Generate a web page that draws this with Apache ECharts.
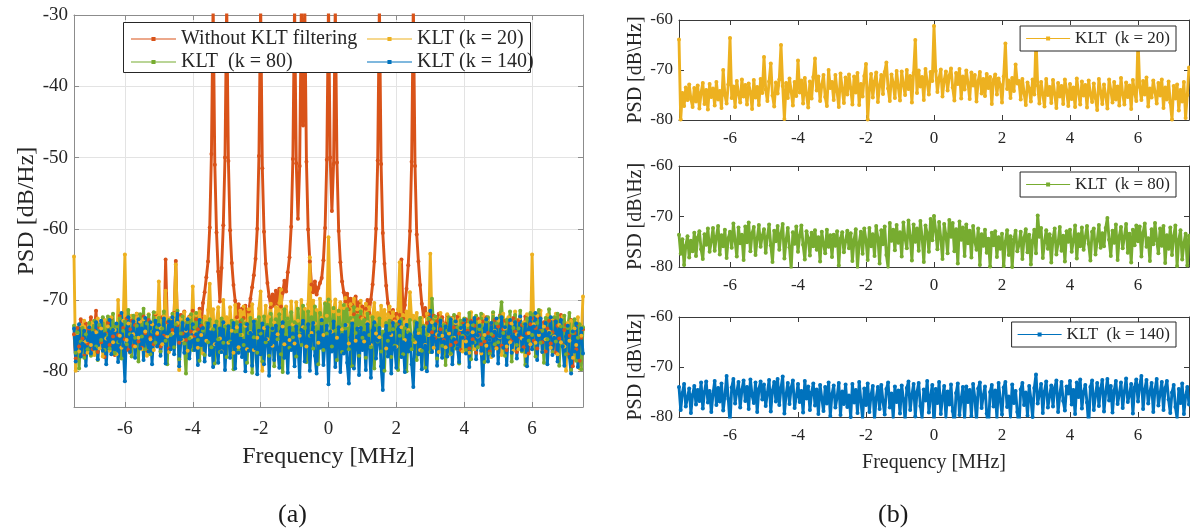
<!DOCTYPE html>
<html>
<head>
<meta charset="utf-8">
<script src="https://cdn.jsdelivr.net/npm/echarts@6/dist/echarts.min.js"></script>
<style>
html,body{margin:0;padding:0;background:#fff}
#chart{width:1190px;height:531px}
</style>
</head>
<body>
<div id="chart"></div>
<script>
// Frequency grid (MHz): one PSD value every freqStep from freqStart
const freqStart = -7.5;
const freqStep = 0.05;

// Tick labels
const xTicks = [-6, -4, -2, 0, 2, 4, 6];
const yTicksA = [-80, -70, -60, -50, -40, -30];
const yTicksB = [-80, -70, -60];

// PSD [dB/Hz] without KLT filtering
const psdRaw = [
-74.8,-78.2,-73.9,-76.5,-72.7,-75.4,-77.8,-73.3,-76.1,-74.0,
-72.4,-76.9,-74.3,-71.5,-77.3,-73.8,-75.9,-72.8,-78.0,-74.7,
-73.2,-76.3,-72.5,-75.1,-77.7,-73.6,-74.9,-72.2,-76.6,-73.9,
-75.5,-72.6,-77.0,-74.1,-72.9,-76.4,-73.5,-71.9,-75.8,-73.0,
-76.7,-72.3,-74.6,-77.1,-72.8,-75.3,-73.4,-76.2,-72.0,-74.8,
-73.7,-76.5,-72.4,-75.0,-64.3,-73.1,-76.8,-72.6,-74.2,-71.8,
-64.5,-73.5,-76.0,-72.1,-74.7,-71.6,-75.6,-73.0,-72.3,-74.4,
-71.5,-75.0,-72.7,-74.1,-71.2,-73.6,-70.4,-68.9,-66.8,-64.6,
-59.8,-49.5,-28.0,-51.0,-60.5,-66.0,-70.2,-65.5,-59.5,-50.0,
-28.0,-50.5,-60.2,-64.8,-67.9,-70.1,-72.4,-70.6,-73.0,-71.2,
-72.5,-70.8,-73.4,-71.6,-69.8,-68.2,-66.5,-64.2,-60.0,-49.8,
-28.0,-51.5,-60.4,-64.9,-67.6,-69.5,-71.0,-69.2,-70.8,-68.7,
-70.5,-68.4,-70.9,-69.0,-67.3,-68.8,-66.1,-64.0,-59.7,-50.2,
-28.0,-50.8,-58.6,-51.2,-28.0,-45.5,-28.0,-50.6,-60.1,-64.6,
-67.8,-68.9,-67.4,-69.2,-68.3,-67.6,-66.9,-64.4,-59.9,-50.3,
-28.0,-50.0,-57.5,-50.9,-28.0,-50.7,-60.3,-64.7,-67.4,-68.9,
-70.2,-69.1,-71.3,-69.8,-70.7,-72.0,-69.5,-71.6,-70.3,-72.4,
-70.9,-72.6,-71.2,-70.0,-71.8,-69.9,-67.8,-64.6,-60.0,-50.4,
-28.0,-50.9,-60.6,-64.9,-68.0,-70.4,-71.8,-73.0,-71.4,-72.7,
-71.9,-73.3,-72.1,-64.3,-72.6,-70.7,-68.4,-65.1,-60.3,-50.6,
-28.0,-51.2,-60.8,-64.6,-67.9,-70.5,-72.3,-71.1,-73.2,-72.0,
-72.8,-74.5,-72.2,-75.3,-73.0,-71.9,-74.1,-72.4,-75.6,-73.3,
-72.1,-74.6,-76.3,-72.5,-73.8,-75.9,-72.3,-74.7,-77.0,-73.1,
-75.2,-72.7,-74.3,-76.8,-72.9,-75.5,-73.6,-77.4,-72.6,-74.9,
-76.2,-73.0,-75.8,-72.4,-74.6,-77.2,-73.3,-75.0,-72.8,-76.7,
-73.7,-72.2,-76.4,-74.1,-72.9,-77.0,-74.8,-73.2,-75.6,-72.5,
-74.4,-77.3,-72.8,-75.2,-73.5,-76.6,-72.3,-74.7,-77.5,-73.4,
-72.6,-75.7,-73.9,-76.8,-72.4,-74.3,-75.9,-73.1,-77.2,-74.0,
-72.9,-76.1,-74.5,-72.7,-77.4,-73.6,-75.4,-72.1,-76.3,-74.2,
-73.5,-77.6,-75.0,-72.8,-79.3,-74.6,-76.9,-73.4,-78.5,-75.3,
-74.1
];

// PSD after KLT filtering, k = 20
const psdK20 = [
-63.9,-79.9,-74.6,-77.2,-73.5,-76.0,-72.9,-75.8,-77.4,-73.6,
-76.3,-73.1,-77.7,-74.5,-72.6,-76.8,-74.0,-77.9,-72.8,-75.4,
-73.7,-77.1,-72.4,-75.9,-74.2,-77.6,-70.0,-75.0,-76.7,-72.9,
-63.6,-75.6,-73.3,-77.4,-72.2,-74.8,-76.5,-71.9,-75.3,-73.0,
-76.9,-72.7,-74.4,-77.8,-72.0,-75.5,-73.4,-77.0,-71.8,-74.6,
-67.4,-73.9,-76.2,-72.3,-68.7,-75.1,-77.3,-72.5,-74.7,-71.9,
-65.0,-73.2,-79.8,-72.6,-75.6,-71.7,-74.3,-77.1,-72.4,-75.2,
-68.1,-74.5,-72.1,-76.7,-71.6,-74.9,-77.5,-72.3,-75.7,-71.4,
-67.7,-74.1,-71.3,-76.2,-73.0,-71.0,-75.4,-77.2,-70.0,-73.6,
-72.4,-76.0,-71.0,-74.3,-77.4,-70.7,-73.8,-76.6,-71.5,-74.9,
-70.9,-73.6,-76.9,-71.3,-74.5,-70.6,-77.0,-72.8,-75.3,-71.2,
-68.8,-79.9,-73.9,-70.8,-75.5,-72.3,-70.5,-76.4,-73.1,-71.0,
-74.8,-70.4,-68.5,-73.7,-76.2,-70.9,-72.6,-75.6,-70.2,-73.4,
-76.1,-70.3,-72.9,-75.0,-70.0,-73.8,-71.2,-76.5,-70.6,-64.0,
-74.6,-70.1,-73.3,-71.4,-76.0,-69.8,-72.5,-74.9,-70.4,-72.2,
-61.2,-70.2,-74.4,-71.6,-69.9,-75.3,-72.0,-70.3,-74.1,-71.1,
-69.7,-73.5,-76.1,-70.6,-72.8,-69.8,-75.7,-71.3,-73.9,-70.1,
-72.6,-75.8,-70.5,-73.1,-71.0,-76.3,-72.2,-70.4,-74.7,-71.8,
-75.2,-70.8,-73.6,-71.4,-76.8,-72.0,-70.9,-74.9,-71.7,-73.0,
-76.5,-71.3,-64.7,-73.8,-72.1,-75.6,-71.6,-74.2,-68.9,-72.7,
-72.2,-75.9,-71.8,-74.6,-77.0,-72.5,-73.7,-76.3,-71.9,-74.9,
-63.5,-73.1,-76.7,-72.4,-74.8,-77.3,-71.8,-75.0,-73.4,-76.6,
-72.0,-74.7,-77.6,-72.6,-75.3,-73.2,-76.8,-71.9,-74.1,-77.2,
-72.8,-75.8,-73.5,-77.4,-71.7,-74.5,-76.9,-72.3,-75.1,-73.0,
-77.5,-72.1,-74.9,-76.4,-72.7,-75.6,-78.0,-71.8,-74.3,-76.8,
-72.9,-75.2,-77.7,-71.9,-74.0,-76.5,-72.4,-75.9,-73.3,-77.1,
-71.6,-74.8,-76.9,-72.5,-75.4,-73.1,-77.8,-72.0,-74.6,-76.2,
-63.6,-73.4,-76.0,-72.2,-74.9,-71.5,-77.3,-73.7,-75.5,-72.1,
-74.4,-76.7,-72.6,-75.1,-71.9,-77.6,-73.5,-75.9,-72.3,-76.5,
-79.9,-73.2,-75.7,-72.9,-78.1,-74.0,-76.3,-72.4,-79.6,-75.0,
-69.5
];

// PSD after KLT filtering, k = 80
const psdK80 = [
-73.6,-77.4,-74.5,-79.6,-75.8,-73.9,-78.1,-74.8,-76.9,-73.2,
-77.8,-74.2,-72.9,-76.5,-78.4,-73.5,-75.6,-72.4,-77.0,-74.9,
-72.3,-76.8,-74.0,-71.9,-77.5,-73.7,-75.9,-72.6,-78.2,-74.3,
-73.0,-76.2,-71.4,-74.8,-77.9,-72.2,-75.3,-73.6,-78.6,-72.0,
-75.1,-71.2,-76.9,-73.3,-72.1,-77.6,-74.4,-71.7,-76.0,-73.8,
-72.5,-77.2,-74.0,-71.6,-75.7,-79.0,-72.8,-74.9,-71.9,-76.6,
-73.4,-71.5,-78.3,-74.7,-72.3,-76.1,-80.3,-73.1,-75.4,-72.0,
-77.0,-73.8,-71.8,-75.6,-78.5,-72.9,-74.3,-77.7,-73.2,-75.9,
-72.7,-76.6,-74.1,-78.9,-73.0,-75.5,-77.3,-72.6,-76.0,-73.7,
-78.0,-73.6,-75.8,-72.9,-79.7,-74.4,-73.1,-77.1,-74.9,-72.8,
-76.3,-73.3,-78.8,-74.6,-72.5,-80.2,-75.2,-73.0,-77.4,-72.4,
-74.7,-78.6,-72.3,-75.9,-73.5,-77.8,-71.9,-74.2,-79.3,-72.7,
-75.5,-72.0,-77.6,-80.1,-71.3,-74.8,-72.6,-76.7,-71.7,-75.2,
-73.1,-77.9,-71.2,-74.4,-76.3,-70.8,-73.9,-78.7,-71.6,-75.0,
-72.4,-76.8,-70.9,-74.1,-79.0,-71.8,-73.3,-77.0,-70.5,-74.7,
-69.9,-72.8,-76.5,-71.1,-74.3,-78.4,-71.5,-73.6,-77.3,-70.7,
-74.0,-71.3,-76.9,-72.5,-79.3,-71.0,-74.6,-72.2,-77.8,-71.6,
-75.3,-72.8,-78.1,-71.9,-74.9,-76.6,-72.4,-79.6,-73.5,-75.8,
-72.6,-77.2,-74.4,-79.9,-73.2,-75.7,-72.9,-78.0,-74.1,-76.4,
-73.4,-79.8,-75.0,-72.7,-77.6,-73.9,-80.0,-74.5,-72.8,-76.9,
-75.6,-73.0,-78.4,-74.2,-72.5,-77.1,-73.6,-79.5,-74.8,-72.6,
-77.3,-69.8,-74.0,-72.3,-78.2,-75.1,-72.7,-76.4,-73.5,-79.1,
-74.3,-72.4,-77.5,-75.3,-72.1,-76.8,-73.8,-78.9,-72.9,-75.0,
-72.6,-77.0,-74.7,-71.8,-78.3,-73.5,-75.9,-72.2,-76.6,-74.1,
-71.9,-75.4,-78.7,-73.0,-72.4,-77.5,-74.8,-71.7,-76.2,-73.3,
-75.9,-72.3,-70.3,-74.6,-77.8,-72.8,-75.2,-71.6,-78.6,-73.9,
-72.1,-76.3,-74.0,-71.5,-77.2,-73.4,-79.1,-72.6,-75.7,-71.8,
-74.9,-72.0,-77.9,-73.2,-71.4,-76.0,-74.3,-78.8,-72.5,-75.5,
-71.3,-74.7,-77.3,-72.4,-75.8,-71.9,-79.2,-73.7,-76.4,-72.2,
-77.6,-73.9,-71.8,-79.8,-74.6,-72.7,-78.5,-75.3,-73.4,-79.7,
-73.8
];

// PSD after KLT filtering, k = 140
const psdK140 = [
-74.0,-78.6,-75.2,-73.4,-77.9,-76.1,-74.3,-79.2,-75.6,-73.8,
-77.5,-74.6,-76.8,-73.1,-78.3,-75.0,-72.9,-77.1,-74.8,-79.0,
-75.4,-72.8,-77.6,-74.2,-76.9,-73.3,-78.7,-75.8,-71.8,-76.4,
-81.4,-74.1,-72.4,-77.3,-75.0,-73.0,-78.1,-74.6,-72.7,-76.8,
-74.0,-78.4,-72.5,-75.7,-77.2,-73.1,-79.0,-74.4,-72.9,-76.5,
-73.5,-77.8,-75.2,-72.6,-78.9,-74.7,-73.0,-76.9,-72.4,-77.6,
-74.2,-71.9,-79.3,-75.5,-73.2,-77.4,-74.1,-72.7,-78.2,-75.9,
-73.4,-77.0,-74.8,-79.1,-72.8,-76.3,-73.9,-78.6,-75.1,-73.3,
-77.7,-74.5,-79.4,-73.6,-76.2,-78.8,-74.0,-77.3,-73.1,-79.8,
-75.4,-73.7,-78.1,-76.0,-73.2,-79.6,-74.9,-77.4,-73.5,-78.0,
-75.7,-80.0,-73.4,-77.1,-74.6,-79.2,-73.0,-76.8,-80.4,-74.3,
-77.6,-73.3,-79.0,-75.5,-73.8,-80.6,-76.2,-74.0,-78.4,-73.6,
-76.9,-79.5,-74.4,-73.1,-78.1,-75.3,-80.2,-73.9,-77.0,-74.7,
-79.3,-73.7,-76.4,-80.8,-74.2,-72.9,-78.6,-75.6,-73.4,-79.9,
-75.0,-73.2,-77.8,-80.3,-74.5,-76.7,-72.8,-79.1,-75.8,-73.6,
-81.8,-74.4,-77.2,-73.0,-79.4,-76.0,-73.8,-80.1,-74.9,-77.5,
-73.5,-78.8,-81.7,-75.2,-73.3,-79.6,-76.3,-74.0,-80.5,-73.9,
-77.0,-74.6,-79.8,-73.4,-76.1,-80.9,-74.3,-73.1,-78.2,-75.7,
-73.9,-79.3,-82.6,-75.0,-73.6,-77.9,-74.7,-80.3,-73.2,-76.6,
-79.5,-74.1,-73.0,-78.0,-75.9,-80.1,-73.5,-77.2,-74.8,-79.0,
-82.2,-74.5,-73.2,-77.6,-75.1,-79.7,-73.8,-76.4,-80.0,-74.2,
-71.5,-77.3,-75.4,-73.4,-79.2,-74.9,-72.9,-78.1,-75.8,-73.7,
-77.9,-74.2,-72.7,-79.0,-75.5,-73.0,-76.8,-78.7,-73.9,-75.3,
-72.8,-77.5,-74.6,-79.4,-73.1,-76.0,-72.5,-78.3,-75.0,-73.6,
-77.1,-81.9,-74.0,-72.7,-78.6,-75.6,-73.2,-77.8,-74.4,-72.6,
-78.9,-75.1,-72.4,-76.7,-73.8,-79.1,-74.7,-72.8,-77.4,-75.4,
-73.1,-78.2,-74.9,-72.3,-77.0,-75.6,-73.4,-79.3,-74.1,-72.5,
-76.9,-73.7,-71.8,-78.4,-74.5,-72.6,-77.3,-75.0,-73.2,-79.0,
-74.6,-72.4,-77.7,-75.3,-73.0,-78.6,-74.2,-72.8,-76.5,-79.2,
-75.1,-73.6,-78.0,-80.3,-74.4,-77.2,-73.3,-79.4,-75.8,-74.0,
-77.5
];

const COLORS = { raw: '#D95319', k20: '#EDB120', k80: '#77AC30', k140: '#0072BD' };
const FONT = 'Liberation Serif';
const TXT = '#262626';

const toPairs = arr => arr.map((v, i) => [+(freqStart + i * freqStep).toFixed(2), v]);

const grids = [
  { left: 74, top: 15, width: 509, height: 392 },
  { left: 679, top: 20, width: 510, height: 100 },
  { left: 679, top: 166, width: 510, height: 101 },
  { left: 679, top: 317, width: 510, height: 100 }
];

const xAxes = [], yAxes = [];
grids.forEach((g, gi) => {
  const big = gi === 0;
  const lineColor = big ? '#8c8c8c' : '#3a3a3a';
  const tickFont = big ? 19 : 17;
  const ticksY = big ? yTicksA : yTicksB;
  xAxes.push({
    gridIndex: gi, type: 'value', min: -7.5, max: 7.5, position: 'bottom',
    name: (gi === 0 || gi === 3) ? 'Frequency [MHz]' : '',
    nameLocation: 'middle', nameGap: big ? 38 : 36,
    nameTextStyle: { fontFamily: FONT, fontSize: big ? 24 : 20, color: TXT },
    axisLine: { show: true, onZero: false, lineStyle: { color: lineColor, width: 1 } },
    axisTick: { show: true, inside: true, length: 5, customValues: xTicks, lineStyle: { color: lineColor } },
    axisLabel: { show: true, customValues: xTicks, margin: big ? 13 : 10, fontFamily: FONT, fontSize: tickFont, color: TXT },
    splitLine: { show: big, lineStyle: { color: '#e3e3e3', width: 1 } }
  });
  xAxes.push({
    gridIndex: gi, type: 'value', min: -7.5, max: 7.5, position: 'top',
    axisLine: { show: true, onZero: false, lineStyle: { color: lineColor, width: 1 } },
    axisTick: { show: true, inside: true, length: 5, customValues: xTicks, lineStyle: { color: lineColor } },
    axisLabel: { show: false }, splitLine: { show: false }
  });
  yAxes.push({
    gridIndex: gi, type: 'value', position: 'left',
    min: big ? -85 : -80, max: big ? -30 : -60,
    name: big ? 'PSD [dB/Hz]' : 'PSD [dB\\Hz]',
    nameLocation: 'middle', nameGap: big ? 27 : 33, nameRotate: 90,
    nameTextStyle: { fontFamily: FONT, fontSize: big ? 24 : 20, color: TXT },
    axisLine: { show: true, onZero: false, lineStyle: { color: lineColor, width: 1 } },
    axisTick: { show: true, inside: true, length: 5, customValues: ticksY, lineStyle: { color: lineColor } },
    axisLabel: { show: true, customValues: ticksY, margin: 6, fontFamily: FONT, fontSize: tickFont, color: TXT },
    splitLine: { show: big, lineStyle: { color: '#e3e3e3', width: 1 } }
  });
  yAxes.push({
    gridIndex: gi, type: 'value', position: 'right',
    min: big ? -85 : -80, max: big ? -30 : -60,
    axisLine: { show: true, onZero: false, lineStyle: { color: lineColor, width: 1 } },
    axisTick: { show: true, inside: true, length: 5, customValues: ticksY, lineStyle: { color: lineColor } },
    axisLabel: { show: false }, splitLine: { show: false }
  });
});

// Dense PSD traces: thick line plus small dot markers so the noise reads as a filled band
function psdSeries(name, data, color, gi) {
  return {
    type: 'line', name: name, data: toPairs(data),
    xAxisIndex: gi * 2, yAxisIndex: gi * 2,
    color: color,
    lineStyle: { width: 2.9, color: color, join: 'round' },
    itemStyle: { color: color },
    symbol: 'circle', symbolSize: 4,
    showSymbol: true, showAllSymbol: true,
    clip: true, silent: true, animation: false,
    emphasis: { disabled: true }
  };
}

const legendIcon = 'path://M0,4.5H44V5.5H0Z M20,3H24V7H20Z';
const legendText = size => ({ fontFamily: FONT, fontSize: size, color: TXT, lineHeight: size });

const option = {
  backgroundColor: '#ffffff',
  animation: false,
  grid: grids,
  xAxis: xAxes,
  yAxis: yAxes,
  legend: [
    { zlevel: 1, z: 5, left: 126, top: 24, orient: 'vertical', itemGap: 3, itemWidth: 45, itemHeight: 14,
      icon: legendIcon, symbolKeepAspect: true, selectedMode: false,
      data: ['Without KLT filtering', 'KLT  (k = 80)'], textStyle: legendText(20) },
    { zlevel: 1, z: 5, left: 362, top: 24, orient: 'vertical', itemGap: 3, itemWidth: 45, itemHeight: 14,
      icon: legendIcon, symbolKeepAspect: true, selectedMode: false,
      data: ['KLT (k = 20)', 'KLT (k = 140)'], textStyle: legendText(20) },
    { right: 14, top: 26, itemWidth: 44, itemHeight: 12, icon: legendIcon, symbolKeepAspect: true,
      selectedMode: false, data: ['KLT  (k = 20)'], textStyle: legendText(17),
      backgroundColor: '#fff', borderColor: '#262626', borderWidth: 1, padding: [4, 6, 4, 6] },
    { right: 14, top: 172, itemWidth: 44, itemHeight: 12, icon: legendIcon, symbolKeepAspect: true,
      selectedMode: false, data: ['KLT  (k = 80)'], textStyle: legendText(17),
      backgroundColor: '#fff', borderColor: '#262626', borderWidth: 1, padding: [4, 6, 4, 6] },
    { right: 14, top: 322, itemWidth: 44, itemHeight: 12, icon: legendIcon, symbolKeepAspect: true,
      selectedMode: false, data: ['KLT  (k = 140)'], textStyle: legendText(17),
      backgroundColor: '#fff', borderColor: '#262626', borderWidth: 1, padding: [4, 6, 4, 6] }
  ],
  graphic: [
    { type: 'rect', zlevel: 1, z: 0, silent: true,
      shape: { x: 123.5, y: 22.5, width: 407, height: 50 },
      style: { fill: '#ffffff', stroke: '#262626', lineWidth: 1 } },
    { type: 'text', left: 278, top: 502, silent: true,
      style: { text: '(a)', fontFamily: FONT, fontSize: 26, fill: '#1a1a1a' } },
    { type: 'text', left: 878, top: 502, silent: true,
      style: { text: '(b)', fontFamily: FONT, fontSize: 26, fill: '#1a1a1a' } }
  ],
  series: [
    psdSeries('Without KLT filtering', psdRaw, COLORS.raw, 0),
    psdSeries('KLT (k = 20)', psdK20, COLORS.k20, 0),
    psdSeries('KLT  (k = 80)', psdK80, COLORS.k80, 0),
    psdSeries('KLT (k = 140)', psdK140, COLORS.k140, 0),
    psdSeries('KLT  (k = 20)', psdK20, COLORS.k20, 1),
    psdSeries('KLT  (k = 80)', psdK80, COLORS.k80, 2),
    psdSeries('KLT  (k = 140)', psdK140, COLORS.k140, 3)
  ]
};

const chart = echarts.init(document.getElementById('chart'), null, { renderer: 'canvas' });
chart.setOption(option);
</script>
</body>
</html>
